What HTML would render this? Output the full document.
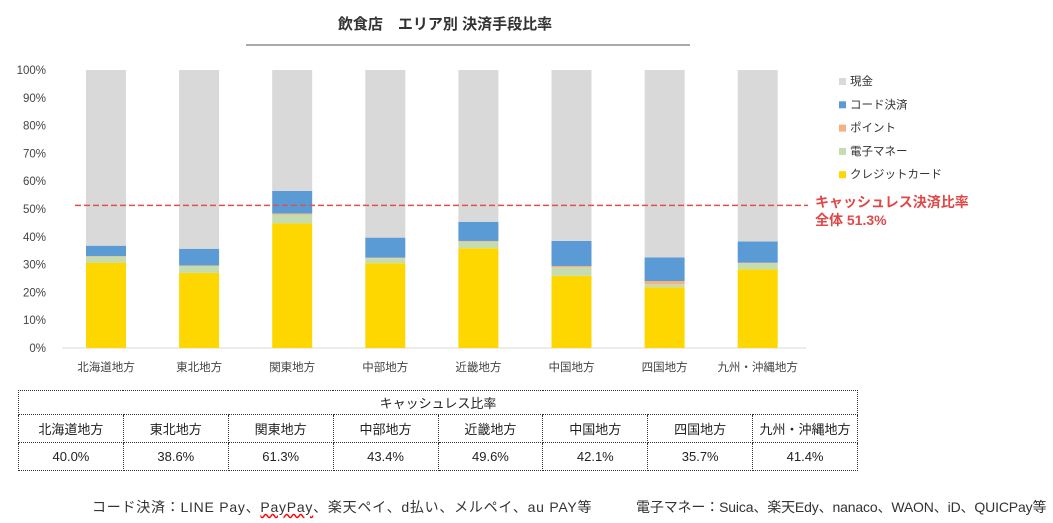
<!DOCTYPE html>
<html><head><meta charset="utf-8"><style>
body{margin:0;background:#fff;font-family:"Liberation Sans","Noto Sans CJK JP",sans-serif;}
#wrap{position:relative;width:1053px;height:523px;overflow:hidden;}
table{position:absolute;left:18px;top:390px;border-collapse:collapse;width:840px;table-layout:fixed;}
td{border:1px dotted #333;text-align:center;font-size:13px;color:#222;padding:0;}
</style></head><body><div id="wrap">
<svg id="chart" width="1053" height="385" style="position:absolute;left:0;top:0"></svg>
<table>
<tr style="height:24px"><td colspan="8">キャッシュレス比率</td></tr>
<tr style="height:28px" id="namesRow"></tr>
<tr style="height:28px" id="valsRow"></tr>
</table>
<div style="position:absolute;left:92px;top:497px;font-size:14px;color:#333;letter-spacing:0.75px;">コード決済：LINE Pay、<span style="text-decoration:underline wavy red">PayPay</span>、楽天ペイ、d払い、メルペイ、au PAY等</div>
<div style="position:absolute;left:636px;top:497px;font-size:14px;color:#333;letter-spacing:-0.15px;">電子マネー：Suica、楽天Edy、nanaco、WAON、iD、QUICPay等</div>
</div>
<script>
const categories=["北海道地方","東北地方","関東地方","中部地方","近畿地方","中国地方","四国地方","九州・沖縄地方"];
const credit=[30.7,27.0,44.8,30.5,35.9,26.0,21.8,28.3];
const emoney=[2.2,2.5,3.2,1.8,2.3,3.0,1.1,2.2];
const point=[0.2,0.2,0.4,0.2,0.3,0.5,1.2,0.2];
const code=[3.7,6.0,8.1,7.2,6.9,9.0,8.5,7.6];
const ratios=["40.0%","38.6%","61.3%","43.4%","49.6%","42.1%","35.7%","41.4%"];
const yTicks=[0,10,20,30,40,50,60,70,80,90,100];
const overall=51.3;
const NS="http://www.w3.org/2000/svg";
const svg=document.getElementById('chart');
const y0=348,yTop=70;
function y(v){return y0-(y0-yTop)*v/100;}
const step=93.1;
function xc(i){return 106+step*i;}
function mk(t,a){const e=document.createElementNS(NS,t);for(const k in a)e.setAttribute(k,a[k]);svg.appendChild(e);return e;}
let t=mk('text',{x:445,y:29,'font-size':15,'font-weight':'bold','text-anchor':'middle',fill:'#333'});t.textContent="飲食店　エリア別 決済手段比率";


let ul=mk('line',{x1:246,x2:690,y1:45,y2:45,stroke:'#555'});


yTicks.forEach(v=>{const e=mk('text',{x:46,y:y(v)+4,'font-size':11.5,'text-anchor':'end',fill:'#444'});e.textContent=v+"%";

});
let ax=mk('line',{x1:62,x2:806,y1:y0,y2:y0,stroke:'#d9d9d9'});


const series=[["credit",credit,"#ffd700"],["emoney",emoney,"#c5dcb0"],["point",point,"#f4b183"],["code",code,"#5b9bd5"]];
const bw=40;
categories.forEach((c,i)=>{
 let acc=0;
 series.forEach(s=>{const v=s[1][i];const r=mk('rect',{x:xc(i)-bw/2,y:y(acc+v),width:bw,height:y(acc)-y(acc+v),fill:s[2]});acc+=v;
 
 });
 const r=mk('rect',{x:xc(i)-bw/2,y:y(100),width:bw,height:y(acc)-y(100),fill:'#d9d9d9'});
 
 
 const l=mk('text',{x:xc(i),y:371,'font-size':11.5,'text-anchor':'middle',fill:'#444'});l.textContent=c;
 
 
});
let dl=mk('line',{x1:75,x2:808,y1:y(overall),y2:y(overall),stroke:'#e05050','stroke-width':1.5,'stroke-dasharray':'6,3'});


let r1=mk('text',{x:815,y:207,'font-size':14,'font-weight':'bold',fill:'#e04848'});r1.textContent="キャッシュレス決済比率";


let r2=mk('text',{x:815,y:225,'font-size':14,'font-weight':'bold',fill:'#e04848'});r2.textContent="全体 "+overall+"%";


const legend=[["現金","#d9d9d9"],["コード決済","#5b9bd5"],["ポイント","#f4b183"],["電子マネー","#c5dcb0"],["クレジットカード","#ffd700"]];
legend.forEach((L,i)=>{const yy=81+i*23.3;
 const s=mk('rect',{x:839,y:yy-3,width:7,height:7,fill:L[1]});
 
 
 const e=mk('text',{x:850,y:yy+4,'font-size':11.5,fill:'#333'});e.textContent=L[0];
 
 });
const nr=document.getElementById('namesRow'),vr=document.getElementById('valsRow');
categories.forEach((c,i)=>{const a=document.createElement('td');a.textContent=c;


nr.appendChild(a);
const b=document.createElement('td');b.textContent=ratios[i];


vr.appendChild(b);});
</script></body></html>
